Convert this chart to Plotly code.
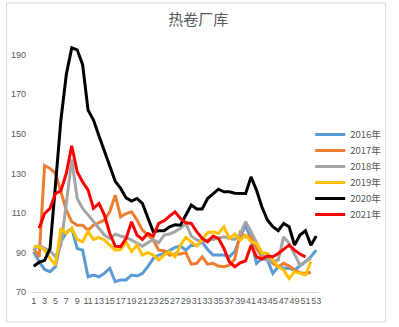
import plotly.graph_objects as go

weeks = list(range(1, 54))

s2016 = [90.4, 85.3, 81.4, 80.3, 82.8, 95.4, 100, 102.2, 92, 91.2, 77.7, 78.6, 77.7, 79.4, 82, 75.2, 76.1, 76.1,
         78.6, 78.1, 79.4, 82.8, 87, 88.7, 89.5, 90.9, 92.6, 93.2, 91.2, 93.7, 93.5, 95.4, 91.5, 88.7, 88.7, 88.7,
         87.8, 90.4, 97.9, 104, 96.3, 84.5, 87, 86.2, 79.4, 82.8, 82, 82, 81.1, 83.1, 85.3, 87.8, 91.2]
s2017 = [92, 87.8, 134, 132.5, 130, 120.7, 111.4, 105.5, 103.8, 103.8, 101.3, 103.8, 105, 106.4, 110.6, 119, 108,
         109.7, 110.6, 106.4, 101.3, 98.8, 96.3, 91.2, 90.9, 88.7, 89.2, 89.2, 89.9, 84.1, 84.5, 87.8, 84.1, 84.5,
         83.1, 82.8, 83.6, 86.5, 100, 97.9, 98.3, 92, 87.8, 87.5, 84.5, 82.8, 84.5, 83.1, 81.1, 79.8, 79.4, 80, None]
s2018 = [91.2, 93.7, 92, 90.9, 87.8, 93.7, 114.8, 137, 117.3, 112.3, 109, 105.5, 102.2, 98.8, 97.1, 99.3, 98.3,
         97.6, 96.3, 94.6, 93.2, 94.9, 96.6, 94.9, 98.8, 99.3, 100.5, 102.2, 104.7, 98.3, 96.3, 95.4, 96.3, 96.5,
         97.1, 97.9, 97.1, 96.6, 99.3, 105.5, 100.5, 94.6, 89.5, 86.2, 85.3, 86.2, 97.9, 94.6, 88.7, 83.6, 85.3, 87,
         None]
s2019 = [93.2, 92.9, 91.2, 87, 83.6, 102.2, 99.6, 102.2, 96.6, 95.4, 100.5, 96.6, 97.6, 96.3, 93.7, 91.2, 91.5,
         95.4, 90.4, 93.7, 88.7, 89.9, 88.7, 86.2, 88.7, 90.4, 87.8, 93.7, 97.6, 95.4, 93.2, 96.6, 100, 100.5, 99.6,
         103, 97.1, 99.3, 96.3, 98.8, 95.4, 94.6, 89.9, 89.5, 86.2, 82.8, 81.1, 76.9, 80.3, 79.4, 78.6, 85.3, None]
s2020 = [83, 85, 86, 92, 124, 157, 180, 193.5, 192.5, 185, 162, 157, 149, 141, 133, 126, 122.4, 117.6, 116,
         117.3, 114.8, 108, 100.5, 101, 101, 103, 104, 103.8, 109, 114, 112, 112, 117.3, 119.8, 122, 120.7, 120.7,
         120, 120, 119.8, 128.2, 121.5, 113, 106.4, 103, 101, 104.7, 103, 93.7, 98.8, 101, 93.7, 98.3]
s2021 = [None, 102.2, 109.7, 112.3, 119.8, 121.2, 130, 144, 130.8, 125.7, 121.5, 112.3, 114.8, 109, 99.6, 93.2,
         92.9, 97.1, 105.5, 98.8, 96.6, 99.6, 98.3, 104.7, 106, 108.4, 110.6, 107.2, 105, 104.7, 100.5, 97.1, 95.4,
         98.3, 97.1, 92, 85.3, 82.8, 84.8, 85.8, 93.7, 87.8, 86.7, 88.2, 87.8, 89.5, 91.5, 93.7, 91.2, 89.2, 87.8,
         None, None]

series = [("2016年", s2016, "#5B9BD5"), ("2017年", s2017, "#ED7D31"), ("2018年", s2018, "#A5A5A5"),
          ("2019年", s2019, "#FFC000"), ("2020年", s2020, "#000000"), ("2021年", s2021, "#FF0000")]

tick_vals = list(range(1, 54, 2))
y_ticks = [70, 90, 110, 130, 150, 170, 190]

W, H = 399, 327
L, R, T, B = 31, 74, 35, 35
pw, ph = W - L - R, H - T - B

def px_x(v):
    return (v - L) / pw

def px_y(v):
    return (H - B - v) / ph

fig = go.Figure()
legend_layouts = {}
for i, (name, vals, col) in enumerate(series):
    key = "legend" if i == 0 else f"legend{i + 1}"
    fig.add_trace(go.Scatter(x=weeks, y=vals, name=name, mode="lines", legend=key,
                             line=dict(color=col, width=3), connectgaps=False))
    legend_layouts[key] = dict(
        x=px_x(316), xanchor="left", y=px_y(120 + 16 * i), yanchor="top",
        font=dict(family="Noto Sans CJK SC", size=9.5, color="#595959"),
        itemwidth=30, bgcolor="rgba(0,0,0,0)")

fig.update_layout(
    width=W, height=H,
    margin=dict(l=L, r=R, t=T, b=B),
    paper_bgcolor="white", plot_bgcolor="white",
    title=dict(text="热卷厂库", x=0.497, xanchor="center", y=1 - 20 / H, yanchor="middle",
               font=dict(family="Noto Sans CJK SC", size=15, color="#595959")),
    font=dict(family="Liberation Sans", size=10, color="#595959"),
    showlegend=True,
    xaxis=dict(range=[0.5, 53.5], tickmode="array", tickvals=tick_vals,
               ticktext=[str(v) for v in tick_vals], tickangle=0,
               showgrid=False, zeroline=False, showline=True, linecolor="#D9D9D9", linewidth=1,
               ticks="", tickfont=dict(size=9, color="#595959"), fixedrange=True),
    yaxis=dict(range=[70, 200], tickmode="array", tickvals=y_ticks,
               ticktext=[str(v) for v in y_ticks],
               showgrid=False, zeroline=False, showline=False, ticks="",
               tickfont=dict(size=9, color="#595959"), ticklabelstandoff=4, fixedrange=True),
    shapes=[dict(type="rect", xref="paper", yref="paper",
                 x0=px_x(6), x1=px_x(393), y0=px_y(322), y1=px_y(3),
                 line=dict(color="#D9D9D9", width=1), fillcolor="rgba(0,0,0,0)", layer="below")],
    **legend_layouts,
)

fig.write_html("out.html")
